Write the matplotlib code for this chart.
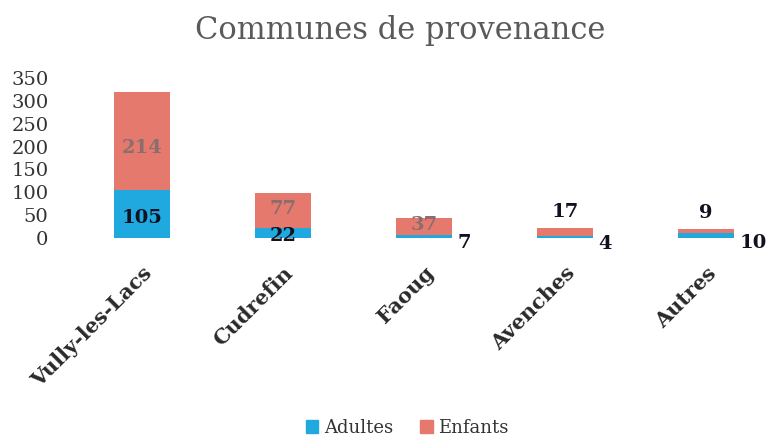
import numpy as np
import matplotlib
matplotlib.use('Agg')
import matplotlib.pyplot as plt
from matplotlib.patches import Patch

# --------------------------------------------------------------------------------------------------

communes = ['Vully-les-Lacs', 'Cudrefin', 'Faoug', 'Avenches', 'Autres']
adultes = [105, 22, 7, 4, 10]
enfants = [214, 77, 37, 17, 9]

blue = '#1fa9df'
salmon = '#e6796e'

plt.rcParams['font.family'] = 'serif'
plt.rcParams['font.serif'] = ['DejaVu Serif']

fig = plt.figure(figsize=(7.68, 4.36), dpi=100)
ax = fig.add_axes([72/768, 1-238/436, 1-72/768, 160/436])

x = np.arange(len(communes))
ax.bar(x, adultes, width=0.4, color=blue)
ax.bar(x, enfants, width=0.4, bottom=adultes, color=salmon)

ax.set_xlim(-0.496, 4.44)
ax.set_ylim(0, 350)
ax.set_yticks(np.arange(0, 351, 50))
ax.tick_params(axis='y', length=0, labelsize=14, labelcolor='#333333', pad=17)
ax.tick_params(axis='x', length=0, pad=18)
ax.set_xticks(x)
ax.set_xticklabels(communes, rotation=45, ha='right', rotation_mode='anchor',
                   fontsize=15, fontweight='bold', color='#2a2a2a')
for s in ax.spines.values():
    s.set_visible(False)

# data labels (positions as in the original layout)
lbl = dict(fontsize=14, fontweight='bold', color='#111122', ha='center', va='center')
grey = dict(fontsize=14, fontweight='bold', color='#8a6e6e', ha='center', va='center')

ax.annotate(f'{adultes[0]}', (0, adultes[0]/2), xytext=(0, -3), textcoords='offset points', **lbl)
ax.annotate(f'{enfants[0]}', (0, adultes[0]+enfants[0]/2), xytext=(0, -5), textcoords='offset points', **grey)
ax.annotate(f'{adultes[1]}', (1, adultes[1]/2), xytext=(0, -2), textcoords='offset points', **lbl)
ax.annotate(f'{enfants[1]}', (1, adultes[1]+enfants[1]/2), xytext=(0, 1), textcoords='offset points', **grey)
ax.annotate(f'{enfants[2]}', (2, adultes[2]+enfants[2]/2), xytext=(0, 1), textcoords='offset points', **grey)
for i in [2, 3, 4]:
    ax.annotate(f'{adultes[i]}', (i+0.2, adultes[i]/2), xytext=(4, -5), textcoords='offset points',
                fontsize=14, fontweight='bold', color='#111122', ha='left', va='center')
for i in [3, 4]:
    ax.annotate(f'{enfants[i]}', (i, adultes[i]+enfants[i]), xytext=(0, 12), textcoords='offset points', **lbl)

fig.text(400/768, 1-30/436, 'Communes de provenance', fontsize=22, color='#5a5a5a',
         ha='center', va='center')

handles = [Patch(color=blue, label='Adultes'), Patch(color=salmon, label='Enfants')]
leg = fig.legend(handles=handles, loc='center', bbox_to_anchor=(407/768, 1-428/436), ncol=2,
                 frameon=False, fontsize=13, handlelength=0.7, handleheight=0.7,
                 handletextpad=0.3, columnspacing=1.5)
for t in leg.get_texts():
    t.set_fontfamily('DejaVu Serif')
    t.set_color('#333333')

fig.savefig('out.png', dpi=100)
